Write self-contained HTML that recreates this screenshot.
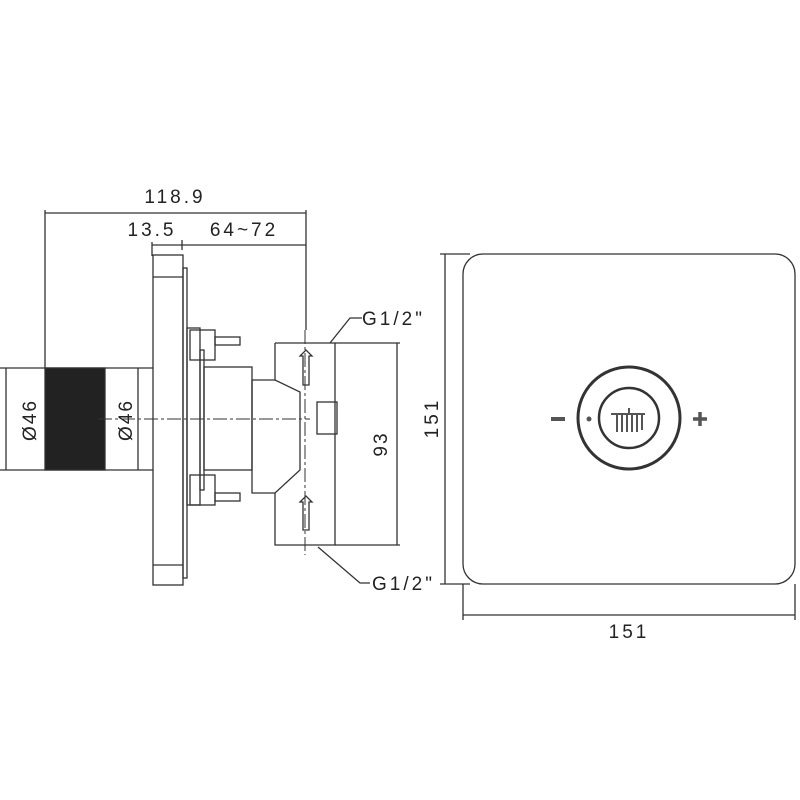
<!DOCTYPE html><html><head><style>body{margin:0;background:#fff}svg{display:block}text{font-family:"Liberation Sans",sans-serif;fill:#222}</style></head><body>
<svg width="800" height="800" viewBox="0 0 800 800" xmlns="http://www.w3.org/2000/svg" stroke="#333" fill="none" stroke-width="1.3">
<!-- dimensions top -->
<line x1="45" y1="213" x2="306" y2="213"/><line x1="45" y1="210" x2="45" y2="368"/><line x1="306" y1="210" x2="306" y2="330"/>
<line x1="152" y1="245" x2="306" y2="245"/><line x1="152" y1="242" x2="152" y2="256"/><line x1="182" y1="240" x2="182" y2="250"/>
<text x="175" y="203" font-size="19" text-anchor="middle" stroke="none" letter-spacing="3">118.9</text>
<text x="152" y="236" font-size="19" text-anchor="middle" stroke="none" letter-spacing="3">13.5</text>
<text x="244" y="236" font-size="19" text-anchor="middle" stroke="none" letter-spacing="3">64~72</text>
<!-- pipe -->
<line x1="0" y1="368" x2="153" y2="368"/><line x1="0" y1="470" x2="153" y2="470"/>
<rect x="45" y="368" width="60" height="102" fill="#222"/>
<line x1="6" y1="368" x2="6" y2="470"/><line x1="138" y1="368" x2="138" y2="470"/>
<text transform="translate(36,420) rotate(-90)" font-size="19" text-anchor="middle" stroke="none" letter-spacing="2">Ø46</text>
<text transform="translate(132,420) rotate(-90)" font-size="19" text-anchor="middle" stroke="none" letter-spacing="2">Ø46</text>
<!-- flange -->
<rect x="153" y="255" width="30" height="330"/><line x1="153" y1="277" x2="183" y2="277"/><line x1="153" y1="565" x2="183" y2="565"/>
<rect x="183" y="268" width="4" height="310"/>
<rect x="187" y="328" width="13" height="177"/><rect x="200" y="350" width="4" height="140"/>
<rect x="190" y="330" width="25" height="30"/><rect x="190" y="475" width="25" height="30"/>
<rect x="215" y="337" width="25" height="8"/><rect x="215" y="493" width="25" height="8"/>
<!-- body -->
<rect x="204" y="367" width="48" height="103"/>
<path d="M252 380 H275 L300 392 V470 L275 493 H252 Z"/>
<path d="M275 343 H335 V545 H275 V493"/><line x1="275" y1="343" x2="275" y2="380"/>
<line x1="335" y1="343" x2="400" y2="343"/><line x1="335" y1="545" x2="400" y2="545"/>
<line x1="397" y1="343" x2="397" y2="545"/>
<rect x="317" y="402" width="20" height="32"/>
<path d="M303 385 V356 H300 L306 350 L312 356 H309 V385 Z"/><path d="M303 530 V502 H300 L306 496 L312 502 H309 V530 Z"/>
<text transform="translate(387,444) rotate(-90)" font-size="19" text-anchor="middle" stroke="none" letter-spacing="2">93</text>
<!-- centerlines -->
<line x1="98" y1="419" x2="310" y2="419" stroke-dasharray="14,3,3,3" stroke-width="1"/>
<line x1="305" y1="330" x2="305" y2="555" stroke-dasharray="14,3,3,3" stroke-width="1"/>
<!-- leaders -->
<path d="M330 343 L350 318 H362"/><path d="M318 547 L360 583 H370"/>
<text x="362" y="325" font-size="19" stroke="none" letter-spacing="3">G1/2"</text>
<text x="372" y="590" font-size="19" stroke="none" letter-spacing="3">G1/2"</text>
<!-- right plate -->
<rect x="463" y="254" width="332" height="330" rx="20"/>
<line x1="440" y1="254" x2="470" y2="254"/><line x1="440" y1="584" x2="470" y2="584"/><line x1="445" y1="254" x2="445" y2="584"/>
<line x1="463" y1="584" x2="463" y2="620"/><line x1="795" y1="584" x2="795" y2="620"/><line x1="463" y1="615" x2="795" y2="615"/>
<text transform="translate(438,418) rotate(-90)" font-size="19" text-anchor="middle" stroke="none" letter-spacing="3">151</text>
<text x="629" y="638" font-size="19" text-anchor="middle" stroke="none" letter-spacing="3">151</text>
<circle cx="629" cy="418" r="51" stroke-width="3"/><circle cx="629" cy="418" r="30" stroke-width="2.5"/>
<line x1="551" y1="419" x2="565" y2="419" stroke-width="4" stroke="#555"/>
<path d="M700 412 V426 M693 419 H707" stroke-width="3.5" stroke="#555"/>
<circle cx="589" cy="419" r="2.5" fill="#555" stroke="none"/>
<path d="M611 414 H645 M617 415 V432 M622 415 V432 M627 415 V432 M632 415 V432 M637 415 V432 M642 415 V430 M629 408 V414" stroke="#555" stroke-width="2"/>
</svg></body></html>
